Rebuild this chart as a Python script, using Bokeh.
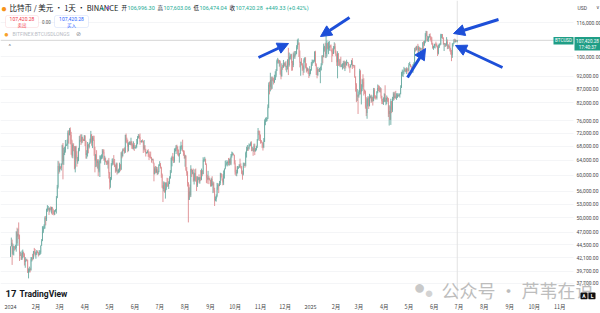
import numpy as np
import pandas as pd
from bokeh.plotting import figure
from bokeh.models import (Range1d, FixedTicker, NumeralTickFormatter, Label, Span,
                          Arrow, NormalHead, BoxAnnotation, ColumnDataSource)
from bokeh.embed import file_html
from bokeh.resources import INLINE

# ---------------- data (BTC/USD daily, thousands of USD) ----------------
first_open_k = 42.3
months = pd.period_range("2024-01", "2025-06", freq="M")

close_k = [
    [44.2,44.9,42.8,44.2,44.2,43.9,43.9,47.0,46.1,46.6,46.3,42.8,42.8,41.7,42.5,43.1,42.7,41.3,41.6,41.7,41.6,39.5,39.8,40.1,39.9,41.8,42.1,42.0,43.3,42.9,42.6],
    [43.1,43.2,43.0,42.6,42.7,43.1,44.3,45.3,47.1,47.8,48.3,50.0,49.7,51.8,52.0,52.1,51.6,52.1,51.8,52.3,51.8,51.3,50.7,51.6,51.7,54.5,57.1,62.5,61.2],
    [62.4,62.0,63.1,68.3,63.8,66.1,66.9,68.3,68.5,69.0,72.1,71.5,73.1,71.4,69.5,65.3,68.4,67.6,61.9,67.9,65.5,63.8,64.0,67.2,70.0,69.9,69.5,70.8,69.9,69.6,71.3],
    [69.7,65.5,66.0,68.5,67.8,68.9,69.4,71.6,69.1,70.6,70.0,67.1,64.0,65.7,63.4,63.8,61.3,63.5,63.8,64.9,64.9,66.8,66.4,64.3,64.5,63.8,63.4,63.1,63.8,60.6],
    [58.2,59.1,62.9,63.9,64.0,63.2,62.3,61.2,63.1,60.8,60.8,61.5,62.9,61.6,66.2,65.2,67.0,66.9,66.3,71.4,70.1,69.1,67.9,68.5,69.3,68.5,69.4,68.3,67.6,68.4,67.5],
    [67.8,67.8,68.8,70.6,71.1,70.8,69.4,69.3,69.6,69.5,67.3,68.2,66.8,66.0,66.2,66.6,66.5,65.2,65.0,64.8,64.1,64.3,63.2,60.3,61.8,60.9,61.6,60.3,60.9,62.7],
    [62.9,62.1,60.2,57.0,56.6,58.2,55.8,56.7,58.0,57.7,57.3,57.9,59.2,60.8,64.7,65.0,64.1,63.9,66.7,67.2,68.2,68.0,65.9,65.4,65.8,67.9,68.0,68.3,66.8,66.2,64.6],
    [65.4,61.5,60.7,58.1,54.0,56.0,55.1,61.7,60.8,60.9,58.7,59.3,60.6,58.7,57.5,58.9,59.5,58.4,59.5,59.0,61.2,60.4,64.1,64.2,64.2,62.8,59.4,59.0,59.4,59.1,58.9],
    [57.3,59.1,57.5,58.0,56.2,53.9,54.2,54.9,57.0,57.6,57.4,58.1,60.5,60.0,59.2,58.2,60.3,61.8,62.9,63.2,63.3,63.6,63.3,64.3,63.1,65.2,65.8,65.8,65.6,63.3],
    [60.8,60.6,60.8,62.1,62.1,62.8,62.2,62.1,60.6,60.3,62.5,63.2,62.9,66.1,67.0,67.6,67.4,68.4,68.4,69.0,67.4,67.4,66.7,68.2,66.6,67.0,68.0,69.9,72.7,72.3,70.2],
    [69.5,69.3,68.7,67.8,69.4,75.6,76.0,76.5,76.7,80.4,88.7,87.9,90.5,87.3,91.1,90.6,89.8,90.5,92.3,94.3,98.4,98.9,97.7,98.0,93.0,91.9,95.9,95.6,97.5,96.4],
    [97.2,95.9,96.0,98.8,96.6,99.9,99.9,101.1,97.4,96.6,101.1,100.0,101.4,101.4,104.3,106.0,106.1,100.0,97.5,97.8,97.2,95.1,94.7,98.7,99.4,95.8,94.2,95.2,93.6,92.8,93.4],
    [94.6,96.9,98.1,98.2,98.3,102.1,96.9,95.1,92.5,94.7,94.5,94.5,94.5,96.5,100.5,99.9,104.1,104.5,101.3,102.0,106.1,103.7,104.0,104.8,104.7,102.6,102.0,101.3,103.7,104.7,102.4],
    [100.6,97.7,101.4,97.9,96.6,96.6,96.5,96.5,96.5,97.4,95.8,97.9,96.6,97.5,97.6,96.1,95.8,95.6,96.6,98.3,96.1,96.6,96.3,91.6,88.7,84.3,84.7,84.4],
    [86.0,94.2,86.1,87.2,90.6,89.9,86.7,86.2,80.7,78.5,82.9,83.7,81.1,84.0,84.3,82.6,84.1,82.7,86.8,84.2,84.0,83.8,86.1,87.5,87.4,86.9,87.2,84.4,82.6,82.4,82.5],
    [85.2,82.5,83.1,83.8,83.5,78.2,79.2,76.3,82.6,79.6,83.4,85.3,83.7,84.6,83.6,84.0,84.9,84.5,85.1,85.2,87.5,93.4,93.7,93.9,94.6,94.6,93.8,94.9,94.3,94.2],
    [96.5,96.9,95.9,94.3,94.8,96.8,97.0,103.2,102.9,104.6,104.1,102.8,104.1,103.5,103.7,103.5,103.1,106.4,105.6,106.8,109.6,111.7,107.3,108.0,109.0,109.4,108.9,107.8,105.6,103.9,104.6],
    [105.7,105.9,105.4,104.7,101.5,104.3,105.6,105.7,110.2,110.2,108.7,105.6,106.1,105.4,105.6,106.8,104.6,104.9,104.6,103.3,102.2,100.9,105.6,106.0,107.3,106.9,107.1,106.9963,107.42028],
]
high_k = [
    [44.2,45.9,45.5,44.7,44.3,44.2,44.5,47.2,47.9,47.7,49.0,46.5,43.2,43.0,43.4,43.6,43.2,42.9,42.2,41.9,41.9,41.7,40.2,40.5,40.3,42.2,42.2,42.8,43.3,43.9,43.7],
    [43.2,43.5,43.4,43.1,43.5,43.4,44.4,45.6,48.2,48.2,48.6,50.3,50.4,52.0,52.8,52.6,52.2,52.3,52.5,52.4,52.4,52.0,51.5,51.7,51.9,54.9,57.6,63.9,63.7],
    [63.2,62.4,63.2,68.5,69.0,67.6,67.9,69.9,68.6,70.0,72.8,72.9,73.6,73.8,72.4,70.0,68.9,68.9,68.1,68.1,68.2,66.6,65.0,67.6,71.1,71.5,71.7,71.6,70.9,70.3,71.4],
    [71.3,69.7,66.9,69.3,68.7,69.1,70.3,72.7,71.7,71.1,71.2,71.2,67.9,65.8,66.9,64.3,64.4,64.1,65.4,65.4,65.7,67.2,67.2,67.1,65.3,64.8,63.9,64.0,64.2,64.7],
    [60.9,59.6,63.3,64.5,64.6,65.5,64.4,62.9,63.4,63.4,61.5,61.8,63.4,63.0,66.4,66.7,67.4,67.4,67.7,71.5,71.9,70.6,70.0,69.2,69.5,69.5,70.6,69.6,68.9,69.5,69.0],
    [68.0,68.4,70.2,71.1,71.7,71.6,71.9,69.6,69.9,70.1,69.6,69.9,68.4,67.3,66.4,66.9,67.2,66.1,65.7,66.5,65.0,64.5,64.5,63.4,62.3,62.5,62.3,62.2,61.2,63.0],
    [63.8,63.3,62.3,60.5,57.5,58.5,58.3,58.2,58.3,59.4,59.3,58.5,59.8,61.4,64.8,65.3,66.1,65.1,67.4,67.6,68.4,68.5,67.8,67.1,66.1,68.2,69.4,68.3,70.0,66.9,66.8],
    [65.6,65.0,62.2,61.1,58.3,57.0,57.7,62.7,61.8,61.5,61.8,60.7,61.6,61.8,59.8,59.8,59.6,60.3,59.6,61.4,61.8,61.4,64.9,64.5,65.0,64.5,63.2,60.2,61.2,59.9,59.4],
    [58.9,59.4,59.8,58.5,58.3,56.9,54.8,55.3,58.1,58.0,57.9,58.6,60.7,60.6,60.4,59.2,61.3,61.8,63.9,64.1,63.6,64.0,64.7,64.5,64.8,65.8,66.5,66.3,66.0,65.6],
    [64.1,62.4,61.5,62.5,62.4,63.0,64.5,63.2,62.5,61.3,63.4,63.4,63.3,66.5,67.9,68.4,67.9,68.9,68.7,69.4,69.5,67.9,67.5,68.8,68.8,67.5,68.2,70.2,73.6,72.9,72.7],
    [71.6,69.9,69.4,69.0,70.5,76.4,76.9,77.2,76.9,81.5,89.6,89.9,93.4,91.8,91.9,91.8,91.4,92.6,94.0,94.9,98.9,99.6,98.9,98.7,98.5,94.7,97.3,96.6,98.7,97.5],
    [97.9,98.2,96.3,99.0,104.0,101.9,100.5,101.4,101.3,98.3,101.9,102.5,102.5,102.6,105.2,107.8,108.3,106.5,102.8,98.0,99.5,97.3,96.4,99.4,99.9,99.9,97.3,95.6,95.2,94.9,96.1],
    [94.9,97.8,98.9,98.7,98.8,102.5,102.7,97.3,95.3,95.8,94.9,95.4,95.9,97.3,100.7,100.8,105.9,104.9,106.3,109.6,107.3,106.3,106.8,107.1,105.3,105.5,103.2,103.8,104.8,106.5,106.0],
    [102.8,101.5,102.5,101.7,99.0,99.2,100.1,96.9,97.3,98.3,98.5,98.1,98.0,98.8,97.9,97.7,97.0,96.0,96.9,98.7,99.5,96.7,96.6,96.5,92.0,89.3,87.1,85.1],
    [86.6,95.0,94.4,88.9,91.0,92.8,91.2,86.9,86.5,84.1,83.6,84.4,84.3,85.3,84.7,85.0,84.7,84.1,87.5,87.4,84.8,84.5,86.3,88.8,88.5,88.3,87.8,87.5,84.6,83.5,84.0],
    [85.5,88.5,83.9,84.7,84.2,83.8,81.2,80.8,83.5,82.7,84.2,85.9,86.1,85.8,86.4,85.5,85.5,85.1,85.6,85.3,88.5,93.8,94.7,94.0,95.8,95.3,95.2,95.6,95.5,95.2],
    [97.4,97.9,96.9,96.3,95.2,96.9,97.7,104.0,104.3,104.9,104.9,105.8,104.9,104.3,104.1,104.0,103.7,106.6,107.1,107.3,110.8,111.9,111.8,109.5,109.3,110.4,110.7,109.3,108.9,106.3,104.9],
    [105.8,105.9,106.8,106.0,105.0,105.4,105.9,106.1,110.5,110.4,110.4,108.8,106.2,106.2,106.0,108.9,107.8,105.6,105.0,106.5,104.0,103.1,106.1,106.3,108.0,108.2,107.8,107.5,107.60306],
]
low_k = [
    [42.2,44.2,40.8,42.6,42.5,43.4,43.6,43.2,44.8,44.3,45.6,41.5,42.4,41.7,41.7,42.0,42.2,40.7,40.3,41.4,41.5,39.4,38.5,39.5,39.5,39.8,41.4,41.6,41.8,42.7,42.3],
    [41.9,42.6,42.9,42.3,42.5,42.6,42.8,44.3,45.2,46.8,47.6,47.7,48.4,49.3,51.3,51.6,50.6,51.2,51.6,50.9,50.6,50.8,50.5,50.6,51.3,50.9,54.4,56.7,60.4],
    [60.8,61.6,61.3,62.8,59.0,62.8,65.5,66.2,68.1,68.2,67.2,68.8,71.3,68.6,65.6,64.8,64.6,66.6,61.6,60.8,64.5,62.3,63.1,63.8,66.6,69.3,68.4,68.9,69.1,69.6,69.6],
    [68.1,64.5,64.5,65.1,66.0,67.4,68.7,69.1,68.2,67.5,69.6,65.3,60.8,62.2,62.3,61.8,59.8,60.8,59.6,63.2,64.3,64.5,65.9,63.9,62.8,63.5,62.8,62.8,61.8,59.2],
    [56.5,56.9,58.8,62.6,62.9,62.7,62.2,60.7,61.0,60.2,60.5,60.6,60.8,61.1,61.4,64.6,65.1,66.6,65.9,66.1,69.2,68.9,66.3,66.6,68.5,68.4,68.3,67.3,67.2,67.1,66.7],
    [67.4,67.3,67.6,68.6,70.4,70.2,68.5,69.2,69.1,69.2,66.1,66.9,66.3,65.1,65.9,66.0,65.0,64.1,64.7,64.5,63.4,64.0,63.2,58.5,60.3,60.6,60.6,60.1,60.4,60.8],
    [62.5,61.8,59.4,56.8,53.5,56.0,55.7,54.3,56.3,57.2,57.1,56.6,57.8,59.2,60.6,62.4,63.9,63.3,63.4,66.5,65.8,66.6,65.4,65.1,63.4,65.8,66.7,67.1,66.5,65.3,64.5],
    [62.3,61.2,59.9,57.2,49.0,54.0,54.6,54.7,59.6,60.3,58.4,57.7,58.5,58.4,56.1,57.1,58.8,58.0,57.9,58.6,58.8,59.8,60.3,63.6,63.8,62.8,58.1,57.9,58.8,57.8,58.7],
    [57.2,57.2,57.4,55.6,55.7,52.6,53.7,53.6,54.6,56.4,55.6,57.3,57.6,59.5,58.7,57.5,57.6,59.2,61.6,62.4,62.8,62.4,62.7,62.6,62.8,62.7,64.8,65.4,65.4,62.9],
    [60.2,59.9,59.8,60.5,61.7,62.0,62.1,61.8,60.3,58.9,60.0,62.5,62.0,62.4,64.8,66.7,66.7,67.1,68.0,68.1,66.6,66.7,65.3,66.4,65.5,66.5,66.8,67.5,69.7,71.4,69.6],
    [68.8,69.0,67.5,66.8,67.5,69.3,74.5,75.6,75.8,76.5,80.2,85.1,86.2,86.7,87.1,90.1,88.8,89.4,90.9,91.6,94.1,97.2,97.2,95.9,92.6,90.8,91.9,94.6,95.4,96.1],
    [95.7,94.4,93.6,94.7,92.5,95.9,99.0,98.9,94.2,94.3,95.7,99.3,99.2,100.6,101.2,103.3,105.3,100.0,95.6,92.2,96.4,94.2,92.4,93.4,97.6,95.2,93.5,94.0,93.0,91.3,92.0],
    [92.8,94.2,96.2,97.5,97.3,97.9,96.1,92.5,91.2,92.2,93.8,93.7,89.3,94.3,96.5,97.3,99.9,102.3,99.6,99.5,100.1,103.3,101.2,102.7,104.1,102.5,97.8,100.3,101.3,103.3,101.5],
    [100.3,96.2,91.2,96.2,96.2,95.7,95.7,95.7,94.7,95.3,94.9,94.1,95.2,96.3,97.3,96.0,95.2,93.4,95.5,96.5,94.9,96.1,95.3,91.4,86.1,82.3,82.7,78.2],
    [83.9,85.0,85.1,81.5,86.3,87.9,84.7,85.3,80.0,77.5,76.6,80.8,79.9,80.8,83.6,82.0,82.4,81.1,82.6,83.6,83.2,83.6,83.2,85.5,86.3,85.9,85.8,83.6,81.6,81.6,81.3],
    [82.4,82.3,81.2,81.6,82.4,77.2,74.4,76.2,74.6,78.5,78.9,82.8,83.0,83.7,83.6,83.1,83.8,84.2,84.3,83.9,85.1,87.6,92.0,91.7,92.8,93.9,93.6,92.9,93.8,92.9],
    [94.1,96.4,95.7,94.1,93.6,93.4,95.9,96.9,102.3,102.8,103.3,100.8,101.4,102.6,101.4,103.1,102.6,103.1,102.0,104.9,106.1,109.3,106.8,106.9,106.7,108.6,107.5,106.8,105.4,103.6,103.1],
    [103.9,103.7,104.9,104.2,100.4,101.1,103.9,105.0,105.3,108.4,108.1,105.4,102.6,104.4,104.5,104.9,103.4,103.5,103.9,102.4,101.0,98.2,99.6,104.6,105.9,106.6,106.4,106.8,106.47404],
]

tick_labels = ["2024", "2月", "3月", "4月", "5月", "6月", "7月", "8月", "9月", "10月", "11月", "12月",
               "2025", "2月", "3月", "4月", "5月", "6月", "7月", "8月", "9月", "10月", "11月"]
price_ticks = [37700, 39700, 42100, 44500, 47000, 50000, 53000, 56000, 60000, 64000,
               68000, 72000, 76000, 82000, 87000, 92000, 100000, 116000]

# ---------------- checks ----------------
expected = [p.days_in_month for p in months]
expected[-1] = 29
errs = []
for name, arr in (("close", close_k), ("high", high_k), ("low", low_k)):
    for m, lst, e in zip(months, arr, expected):
        if len(lst) != e:
            errs.append(f"{name} {m}: {len(lst)} != {e}")
if errs:
    raise ValueError("; ".join(errs))

close = np.concatenate(close_k) * 1000
high = np.concatenate(high_k) * 1000
low = np.concatenate(low_k) * 1000
open_ = np.concatenate([[first_open_k * 1000], close[:-1]])
high = np.maximum.reduce([high, open_, close])
low = np.minimum.reduce([low, open_, close])
day = np.arange(len(close))
UP, DOWN = "#62a79d", "#dc8589"
colors = np.where(close >= open_, UP, DOWN)

src = ColumnDataSource(dict(day=day, o=open_, h=high, l=low, c=close,
                            top=np.maximum(open_, close), bottom=np.minimum(open_, close),
                            color=colors))

start = pd.Timestamp("2024-01-01")
tick_pos = [int((d - start).days) for d in pd.date_range("2024-01-01", "2025-11-01", freq="MS")]

# ---------------- figure ----------------
W, H = 600, 313
PANE_W, FRAME_H = 573, 299       # price pane width, pane height
PX_PER_DAY = 0.8197
x0 = -10 / PX_PER_DAY
y_top = 116000 * np.exp(22 / 232)
y_bot = 116000 * np.exp(-(FRAME_H - 22) / 232)

p = figure(width=W, height=H, x_range=Range1d(x0, x0 + W / PX_PER_DAY),
           y_range=Range1d(y_bot, y_top), y_axis_type="log", y_axis_location="right",
           output_backend="svg", toolbar_location=None,
           min_border_left=0, min_border_top=0, min_border_right=0,
           min_border_bottom=H - FRAME_H, outline_line_color=None,
           background_fill_color="white", border_fill_color="white")

ya = p.yaxis[0]
ya.fixed_location = x0 + PANE_W / PX_PER_DAY
ya.ticker = FixedTicker(ticks=price_ticks, minor_ticks=[])
ya.formatter = NumeralTickFormatter(format="0,0.00")
ya.major_label_text_font_size = "5px"
ya.major_label_text_font = "Roboto"
ya.major_label_text_color = "#4a4a4a"
ya.axis_line_color = None
ya.major_tick_line_color = None
ya.minor_tick_line_color = None
ya.major_tick_out = 0
ya.major_tick_in = 0
ya.major_label_standoff = 3

xa = p.xaxis[0]
xa.ticker = FixedTicker(ticks=tick_pos, minor_ticks=[])
xa.major_label_overrides = {t: l for t, l in zip(tick_pos, tick_labels)}
xa.major_label_text_font_size = "5.5px"
xa.major_label_text_font = "Noto Sans CJK SC"
xa.major_label_text_color = "#4a4a4a"
xa.axis_line_color = None
xa.major_tick_line_color = None
xa.minor_tick_line_color = None
xa.major_tick_out = 0
xa.major_tick_in = 0
xa.major_label_standoff = 3

p.xgrid.visible = False
p.ygrid.grid_line_color = "#f4f5f7"

# crosshair on last bar
p.add_layout(Span(location=close[-1], dimension="width", line_color="#d6d6d6",
                  line_width=1, level="underlay"))
p.add_layout(Span(location=day[-1], dimension="height", line_color="#e2e2e2",
                  line_width=1, level="underlay"))

p.segment(x0="day", y0="l", x1="day", y1="h", line_color="color", line_width=0.85, source=src)
p.vbar(x="day", width=0.6, top="top", bottom="bottom", fill_color="color", line_color=None, source=src)


def sy(ypx):
    return FRAME_H - ypx


def lab(x, ypx, text, size, color, font="Roboto", bold=False, align="left", **kw):
    p.add_layout(Label(x=x, y=sy(ypx), x_units="screen", y_units="screen", text=text,
                       text_font_size=f"{size}px", text_color=color, text_font=font,
                       text_font_style="bold" if bold else "normal",
                       text_align=align, text_baseline="middle", **kw))


def box(l, r, t, b, fill, line=None, radius=0, **kw):
    p.add_layout(BoxAnnotation(left=l, right=r, top=sy(t), bottom=sy(b),
                               left_units="screen", right_units="screen",
                               top_units="screen", bottom_units="screen",
                               fill_color=fill, fill_alpha=1,
                               line_color=line, line_width=0.8, border_radius=radius, **kw))


# price-scale column background (under the axis labels)
box(PANE_W, W, -20, H, "white", level="glyph")

CJK = "Noto Sans CJK SC"
TEAL = "#22ab94"
# header
lab(0.5, 7.5, "●", 10, "#f7931a")
lab(9, 7, "比特币 / 美元 · 1天 · BINANCE", 7.5, "#131722", font=CJK)
lab(100, 7, "●", 5, "#089981")
lab(106, 7, "<", 7, "#9c4fd6", bold=True)
for xx, k, v in ((121, "开", "106,996.30"), (157, "高", "107,603.06"),
                 (193, "低", "106,474.04"), (229, "收", "107,420.28")):
    lab(xx, 7, k, 5.5, "#131722", font=CJK)
    lab(xx + 6, 7, v, 5.5, TEAL)
lab(265, 7, "+449.33 (+0.42%)", 5.5, TEAL)

box(5, 38, 15, 27, "white", "#f3a3aa", 2)
lab(21.5, 18.5, "107,420.28", 5, "#f23645", align="center")
lab(21.5, 24, "卖出", 4.5, "#f23645", font=CJK, align="center")
lab(46, 21, "0.00", 4.5, "#555555", align="center")
box(54, 88, 15, 27, "white", "#9bb5f2", 2)
lab(71, 18.5, "107,420.28", 5, "#2962ff", align="center")
lab(71, 24, "买入", 4.5, "#2962ff", font=CJK, align="center")

lab(3.5, 33.5, "●", 8, "#f7a12a")
lab(12, 33, "BITFINEX:BTCUSDLONGS", 5, "#b8bbc4")
lab(75, 33, "⊘", 6, "#8a8d96")
lab(8, 45, "^", 6, "#6a6d78")

# right axis extras
lab(577, 7, "USD", 5, "#4a4a4a")
lab(595, 7, "∨", 4.5, "#4a4a4a")
box(553, 573, 36.5, 44, "#1f9e86")
lab(563, 40.3, "BTCUSD", 4.5, "white", align="center")
box(574, 600, 36.5, 50, "#1f9e86")
lab(587, 40, "107,420.28", 4.6, "white", align="center")
lab(587, 46.5, "17:40:37", 4.6, "white", align="center")

# watermark
lab(413, 286, "●", 20, "#c9c9c9")
lab(424, 292, "●", 15, "#d3d3d3")
lab(441, 289, "公众号 · 芦苇在说", 18, "#bdbdbd", font=CJK)
box(580, 587, 292, 299, "#111111", None, 1)
box(588, 595, 292, 299, "#111111", None, 1)
lab(583.5, 295.5, "A", 5, "white", bold=True, align="center")
lab(591.5, 295.5, "L", 5, "white", bold=True, align="center")

# TradingView logo
lab(5, 293, "17", 9.5, "#131722", bold=True)
lab(19, 293, "TradingView", 8.5, "#131722", bold=True)

# arrows
BLUE = "#1d4fd8"
for (xs, ys, xe, ye) in ((258, 57, 288, 43), (349, 17, 320, 36), (407, 77, 425, 48),
                         (498, 19, 453, 33), (502, 67, 455, 45)):
    p.add_layout(Arrow(x_start=xs, y_start=sy(ys), x_end=xe, y_end=sy(ye),
                       start_units="screen", end_units="screen",
                       line_color=BLUE, line_width=3,
                       end=NormalHead(size=11, fill_color=BLUE, line_color=BLUE)))

open("out.html", "w").write(file_html(p, INLINE))
